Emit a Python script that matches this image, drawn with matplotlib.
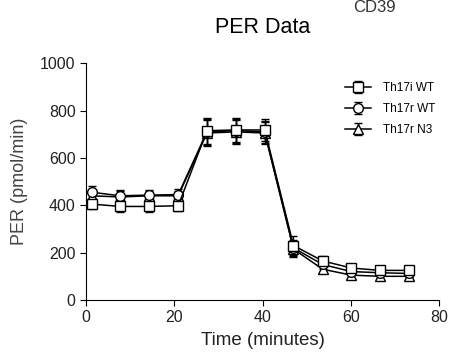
import numpy as np
import matplotlib
matplotlib.use("Agg")
import matplotlib.pyplot as plt

plt.rcParams['font.family'] = ['Liberation Sans', 'DejaVu Sans']

# Dados
time = [1.3, 7.8, 14.3, 20.9, 27.4, 34.0, 40.5, 47.0, 53.6, 60.1, 66.6, 73.1]
th17i_wt = [405, 395, 395, 398, 715, 718, 718, 230, 165, 135, 125, 125]
th17r_wt = [455, 440, 443, 445, 710, 715, 710, 220, 150, 120, 115, 112]
th17r_n3 = [440, 435, 440, 440, 705, 710, 705, 215, 130, 105, 100, 100]
err_i = [22, 25, 22, 22, 55, 50, 45, 40, 20, 15, 15, 15]
err_r = [25, 25, 22, 22, 55, 50, 45, 35, 18, 15, 15, 15]
err_n3 = [25, 25, 22, 22, 55, 50, 45, 35, 18, 15, 15, 15]

series = [
    ('Th17i WT', th17i_wt, err_i, 's'),
    ('Th17r WT', th17r_wt, err_r, 'o'),
    ('Th17r N3', th17r_n3, err_n3, '^'),
]

fig = plt.figure(figsize=(4.5, 3.61), dpi=100)
ax = fig.add_axes([0.191, 0.169, 0.785, 0.656])

for label, y, e, m in reversed(series):
    ax.errorbar(time, y, yerr=e, marker=m, color='black', mfc='white', mec='black',
                ms=7, lw=1.1, elinewidth=1, capsize=3, capthick=1, label=label, zorder=3)

handles, labels = ax.get_legend_handles_labels()
ax.legend(handles[::-1], labels[::-1], loc='upper right', bbox_to_anchor=(1.02, 0.965),
          frameon=False, fontsize=8.5, handlelength=2.2, handletextpad=1.0,
          labelspacing=0.75)

ax.set_xlim(0, 80)
ax.set_ylim(0, 1000)
ax.set_xticks([0, 20, 40, 60, 80])
ax.set_yticks([0, 200, 400, 600, 800, 1000])
ax.spines['top'].set_visible(False)
ax.spines['right'].set_visible(False)
ax.tick_params(labelsize=11.5, length=4, color='black', labelcolor='#222222')
ax.set_xlabel('Time (minutes)', fontsize=13.5, color='#222222', labelpad=5)
ax.set_ylabel('PER (pmol/min)', fontsize=13, color='#444444', labelpad=9)
ax.set_title('PER Data', fontsize=15.5, pad=22)
fig.text(0.785, 1.0, 'CD39', fontsize=12, color='#333333', va='top')

fig.savefig('out.png', dpi=100)
